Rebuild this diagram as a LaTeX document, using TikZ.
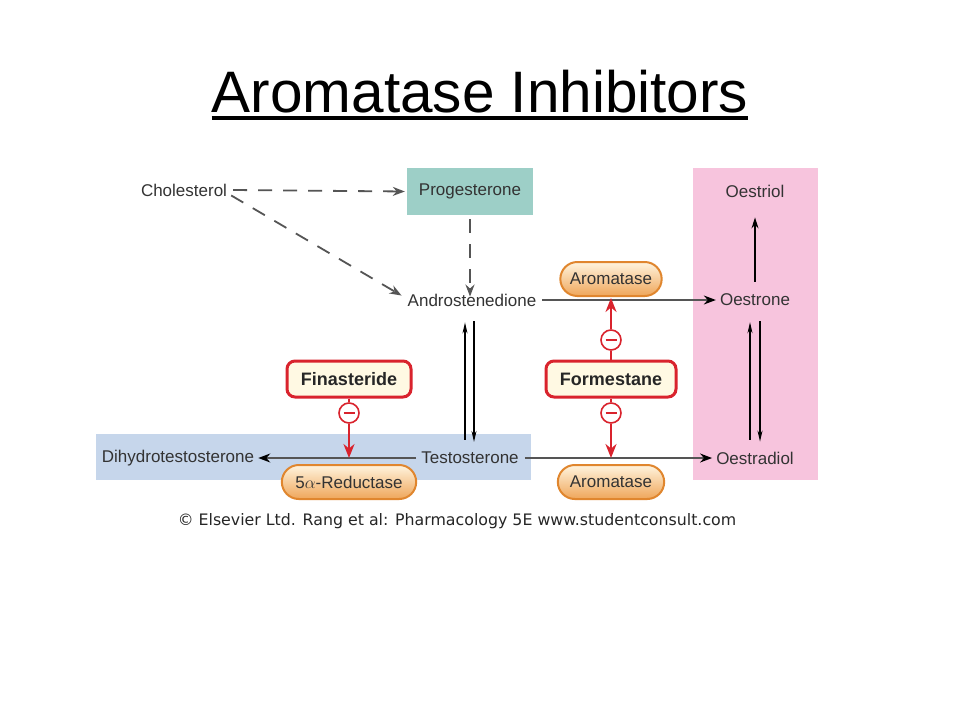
\documentclass[tikz,border=0pt]{standalone}
\usepackage{fontspec}
\setmainfont{Liberation Sans}
\newfontfamily\verd{DejaVu Sans}
\usetikzlibrary{arrows.meta,shapes.misc}
\definecolor{teal1}{HTML}{9DCFC7}
\definecolor{pink1}{HTML}{F7C4DD}
\definecolor{blue1}{HTML}{C6D6EB}
\definecolor{txt}{HTML}{333333}
\definecolor{ln}{HTML}{555555}
\definecolor{redd}{HTML}{D9232D}
\definecolor{orb}{HTML}{E0862E}
\definecolor{cream}{HTML}{FFF9E3}
\definecolor{pilltop}{HTML}{FFF4DE}
\definecolor{pillmid}{HTML}{FBE2BA}
\definecolor{pillbot}{HTML}{EFA65A}
\tikzset{
  lbl/.style={text=txt, font=\fontsize{17}{19}\selectfont, inner sep=2pt},
  dashline/.style={draw=ln, line width=1.8pt, dash pattern=on 14pt off 11pt, -{Stealth[length=12pt,width=9pt]}},
  conv/.style={draw=ln, line width=1.4pt, -{Stealth[length=12pt,width=9pt,color=black]}},
  thin/.style={draw=black, line width=1.1pt},
  pill/.style={rounded rectangle, draw=orb, line width=2pt, top color=pilltop, middle color=pillmid, bottom color=pillbot, text=txt, font=\fontsize{17}{19}\selectfont, minimum height=34pt},
  drug/.style={draw=redd, line width=3pt, rounded corners=8pt, fill=cream, font=\bfseries\fontsize{18}{20}\selectfont, text=black!85, minimum height=36pt},
  minus/.style={circle, draw=redd, line width=1.6pt, fill=white, minimum size=20pt, inner sep=0pt, path picture={\draw[redd, line width=2.2pt] ([xshift=-5.5pt]path picture bounding box.center) -- ([xshift=5.5pt]path picture bounding box.center);}},
  redarr/.style={draw=redd, line width=2.2pt, -{Stealth[length=14pt,width=11pt]}},
  redln/.style={draw=redd, line width=2.2pt},
}
\begin{document}
\begin{tikzpicture}[x=1pt,y=-1pt]
\useasboundingbox (0,0) rectangle (960,720);
\fill[white] (0,0) rectangle (960,720);
% title
\node[anchor=base, inner sep=0pt, font=\fontsize{58.5}{60}\selectfont] (title) at (480,112) {Aromatase Inhibitors};
\draw[line width=3.2pt] (title.base west) ++(0,6) coordinate (ul1) -- (ul1 -| title.base east);
% backgrounds
\fill[pink1] (693,168) rectangle (818,480);
\fill[blue1] (96,434) rectangle (531,480);
% nodes
\node[lbl] (chol) at (184,190) {Cholesterol};
\node[lbl, fill=teal1, minimum width=126pt, minimum height=47pt] (prog) at (470,191.5) {Progesterone};
\node[lbl] (andro) at (472,300) {Androstenedione};
\node[lbl] (testo) at (470,458) {Testosterone};
\node[lbl] (dht) at (178,458) {Dihydrotestosterone};
\node[lbl] (oestriol) at (755,191) {Oestriol};
\node[lbl] (oestrone) at (755,300) {Oestrone};
\node[lbl] (oestradiol) at (755,458) {Oestradiol};
\node[pill, minimum width=108pt] (arom1) at (611,279) {Aromatase};
\node[pill, minimum width=113pt] (arom2) at (611,482) {Aromatase};
\node[pill, minimum width=141pt] (red5) at (349,482) {5$\alpha$-Reductase};
\node[drug, minimum width=124pt] (fin) at (349,379) {Finasteride};
\node[drug, minimum width=130pt] (form) at (611,379) {Formestane};
\node[minus] (mf) at (349,413) {};
\node[minus] (m1) at (611,340) {};
\node[minus] (m2) at (611,413) {};
% helper coordinates
\coordinate (atop) at ([xshift=-2pt]andro.south);
\coordinate (abot) at (atop |- testo.north);
% dashed
\draw[dashline] ([xshift=4pt]chol.east) -- ([xshift=-2pt]prog.west);
\draw[dashline] ([xshift=2pt,yshift=3pt]chol.south east) -- ([xshift=-4pt,yshift=-4pt]andro.north west);
\draw[dashline] ([yshift=-4pt]prog.south) -- ([yshift=-5pt]prog.south |- andro.north);
% conversions
\draw[conv] ([xshift=4pt]andro.east) -- ([xshift=-2pt]oestrone.west);
\draw[conv] ([xshift=4pt]testo.east) -- ([xshift=-2pt]oestradiol.west);
\draw[conv] ([xshift=-3pt]testo.west) -- ([xshift=2pt]dht.east);
\draw[thin, -{Stealth[length=11pt,width=7pt]}] ([yshift=10pt]oestrone.north) -- ([yshift=-18pt]oestriol.south);
\draw[thin, -{Stealth[length=11pt,width=5pt]}] ([xshift=-5pt,yshift=10pt]oestradiol.north) -- ([xshift=-5pt,yshift=-14pt]oestrone.south);
\draw[thin, -{Stealth[length=11pt,width=5pt]}] ([xshift=5pt,yshift=-13pt]oestrone.south) -- ([xshift=5pt,yshift=8pt]oestradiol.north);
\draw[thin, -{Stealth[length=11pt,width=5pt]}] ([xshift=-5pt,yshift=10pt]abot) -- ([xshift=-5pt,yshift=-14pt]atop);
\draw[thin, -{Stealth[length=11pt,width=5pt]}] ([xshift=4pt,yshift=-13pt]atop) -- ([xshift=4pt,yshift=8pt]abot);
% inhibitors
\draw[redln] (fin.south) -- (mf.north);
\draw[redarr] (mf.south) -- (mf.south |- dht.east);
\draw[redln] (form.north) -- (m1.south);
\draw[redarr] (m1.north) -- ([yshift=-1pt]arom1.south);
\draw[redln] (form.south) -- (m2.north);
\draw[redarr] (m2.south) -- (m2.south |- oestradiol.west);
% copyright
\node[text=black!85, font=\verd\fontsize{15.8}{17}\selectfont] (copy) at (457,521) {\textcopyright{} Elsevier Ltd. Rang et al: Pharmacology 5E www.studentconsult.com};
\end{tikzpicture}
\end{document}
